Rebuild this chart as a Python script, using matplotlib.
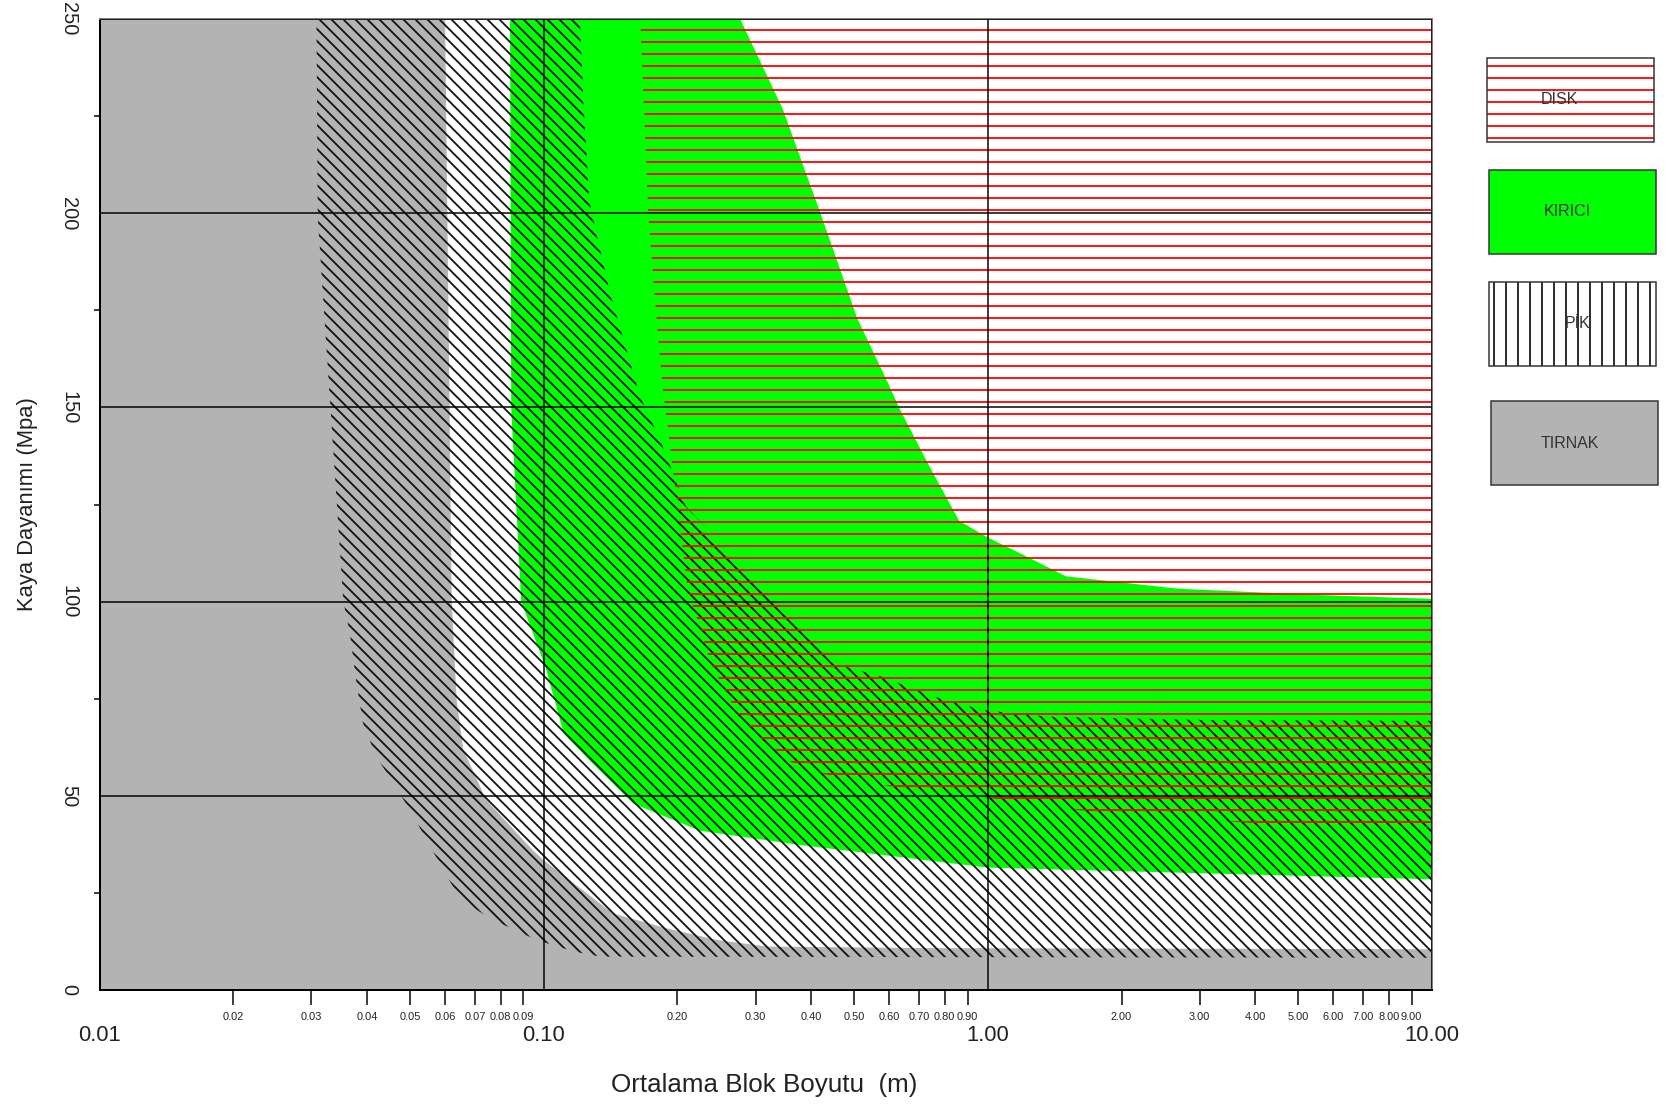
import matplotlib
matplotlib.use('Agg')
import matplotlib.pyplot as plt
from matplotlib.patches import Rectangle

# bolge sinirlari: x = ortalama blok boyutu (m), y = kaya dayanimi (MPa)
pik_x = [0.060, 0.0621, 0.0637, 0.0659, 0.0742, 0.0945, 0.0998, 0.1434, 0.189, 0.245, 0.318, 0.7, 10, 10]
pik_y = [250, 100, 74.7, 62, 49, 36, 33.5, 19.7, 15.9, 12.9, 11.2, 10.8, 10.5, 250]

kirici_alt_x = [0.084, 0.0845, 0.089, 0.101, 0.111, 0.127, 0.159, 0.225, 0.38, 1.0, 10]
kirici_alt_y = [250, 150, 100, 83, 66, 59, 48, 41, 37.3, 31.5, 28.5]
kirici_ust_x = [10, 5.53, 2.69, 1.5, 1.18, 1.0, 0.862, 0.74, 0.634, 0.592, 0.508, 0.42, 0.345, 0.277]
kirici_ust_y = [100.7, 101.7, 103.3, 106.5, 112.5, 116.5, 120.8, 134.7, 149.5, 157, 173, 200, 227, 250]

gecis_alt_x = [0.0308, 0.031, 0.0354, 0.0366, 0.0379, 0.0392, 0.042, 0.0459, 0.05, 0.0545,
               0.0595, 0.065, 0.077, 0.0963, 0.117, 0.134, 10]
gecis_alt_y = [250, 199, 100, 92, 79, 68.7, 60, 53.3, 46.3, 38.6, 30.9, 23.2, 18, 12.9, 9.9, 8.6, 8.3]
gecis_ust_x = [10, 3.17, 1.36, 0.97, 0.76, 0.576, 0.446, 0.41, 0.345, 0.276, 0.209, 0.183,
               0.1648, 0.141, 0.1267, 0.1228, 0.1207]
gecis_ust_y = [69.3, 69.5, 70.4, 72.1, 75.5, 80.7, 84.2, 89, 98.7, 110, 124.5, 141.6,
               152.8, 179.5, 203, 229, 250]

disk_x = [0.165, 0.172, 0.178, 0.185, 0.194, 0.203, 0.211, 0.22, 0.238, 0.272, 0.307, 0.36,
          0.43, 0.6, 1.0, 1.6, 3.9, 10, 10]
disk_y = [250, 200, 178, 156, 137, 118.5, 103, 96.6, 84, 71.4, 65, 58.7,
          55.5, 52.5, 49.5, 46.3, 43, 42, 250]

x_major = [0.01, 0.1, 1, 10]
x_major_labels = ['0.01', '0.10', '1.00', '10.00']
x_minor = [0.02, 0.03, 0.04, 0.05, 0.06, 0.07, 0.08, 0.09,
           0.2, 0.3, 0.4, 0.5, 0.6, 0.7, 0.8, 0.9,
           2, 3, 4, 5, 6, 7, 8, 9]
y_major = [0, 50, 100, 150, 200, 250]
y_minor = [25, 75, 125, 175, 225]

legend_labels = ['DİSK', 'KIRICI', 'PİK', 'TIRNAK']

plt.rcParams['font.family'] = ['Liberation Sans', 'DejaVu Sans']
plt.rcParams['hatch.linewidth'] = 1.8

W, H = 1669, 1104
fig = plt.figure(figsize=(W / 72, H / 72), dpi=72)
ax = fig.add_axes([99.5 / W, 114 / H, 1332.5 / W, 971 / H])
ax.set_facecolor('#b3b3b3')
ax.set_xscale('log')
ax.set_xlim(0.01, 10)
ax.set_ylim(0, 250)

# PIK (beyaz), KIRICI (yesil), gecis (capraz tarama), DISK (kirmizi yatay)
ax.fill(pik_x, pik_y, color='white', lw=0, zorder=1)
ax.fill(kirici_alt_x + kirici_ust_x, kirici_alt_y + kirici_ust_y, color='#00ff00', lw=0, zorder=1.1)
ax.fill(gecis_alt_x + gecis_ust_x, gecis_alt_y + gecis_ust_y, facecolor='none',
        edgecolor='#111111', hatch='\\\\', lw=0, zorder=1.2)
ax.fill(disk_x, disk_y, facecolor='none', edgecolor='#ff0000', hatch='-', lw=0, zorder=1.3)

ax.set_axisbelow(False)
ax.grid(True, which='major', color='black', lw=1.5)

for s in ['left', 'bottom']:
    ax.spines[s].set_color('black')
    ax.spines[s].set_linewidth(2)
for s in ['top', 'right']:
    ax.spines[s].set_color('#7f7f7f')
    ax.spines[s].set_linewidth(2)

ax.set_xticks(x_major, x_major_labels, fontsize=22, color='#222222')
ax.set_xticks(x_minor, ['%.2f' % v for v in x_minor], minor=True, fontsize=11, color='#222222')
ax.tick_params(axis='x', which='major', length=0, pad=35)
ax.tick_params(axis='x', which='minor', length=15, width=1.5, pad=7.5)

ax.set_yticks(y_major, [str(v) for v in y_major], rotation=-90, va='center', fontsize=20, color='#222222')
ax.set_yticks(y_minor, minor=True)
ax.tick_params(axis='y', which='major', length=0, pad=21)
ax.tick_params(axis='y', which='minor', length=6, width=1.5)

ax.set_xlabel('Ortalama Blok Boyutu  (m)', fontsize=26, color='#222222')
ax.xaxis.set_label_coords(0.4987, -0.0855)
ax.set_ylabel('Kaya Dayanımı (Mpa)', fontsize=22, color='#222222')
ax.yaxis.set_label_coords(-0.0462, 0.5)

# lejant kutulari (piksel: sol, ust)
kutu_sol = [1487, 1489, 1489, 1491]
kutu_ust = [58, 170, 282, 401]
kutu_renk = ['white', '#00ff00', 'white', '#b3b3b3']
kutu_tarama = ['-', None, '|', None]
kutu_tarama_renk = ['#ff0000', '#333333', '#1a1a1a', '#333333']
yazi_kayma = [-11, -5, 5, -5]
kw, kh = 167, 84
for i, lab in enumerate(legend_labels):
    x0 = kutu_sol[i] / W
    y0 = (H - kutu_ust[i] - kh) / H
    fig.add_artist(Rectangle((x0, y0), kw / W, kh / H, transform=fig.transFigure,
                             facecolor=kutu_renk[i], edgecolor=kutu_tarama_renk[i],
                             hatch=kutu_tarama[i], lw=0))
    fig.add_artist(Rectangle((x0, y0), kw / W, kh / H, transform=fig.transFigure,
                             facecolor='none', edgecolor='#333333', lw=1.5))
    fig.text((kutu_sol[i] + kw / 2 + yazi_kayma[i]) / W, (H - kutu_ust[i] - kh / 2) / H, lab,
             ha='center', va='center', fontsize=16, color='#333333')

fig.savefig('out.png', dpi=72)
